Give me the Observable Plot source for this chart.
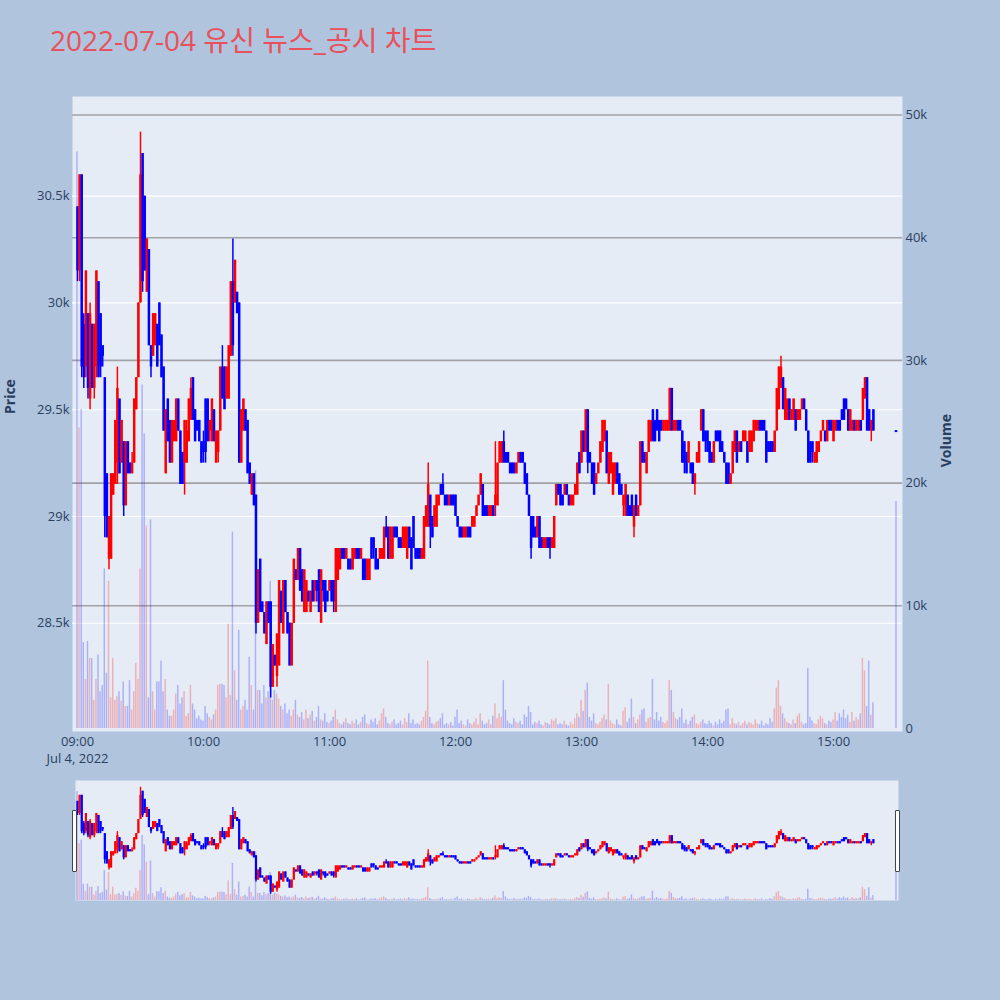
<!DOCTYPE html>
<html>
<head>
<meta charset="utf-8">
<script src="https://cdn.jsdelivr.net/npm/d3@7"></script>
<script src="https://cdn.jsdelivr.net/npm/@observablehq/plot@0.6"></script>
<style>
  html, body { margin: 0; padding: 0; overflow: hidden; background: #b0c4de; }
  #wrap { position: relative; width: 1000px; height: 1000px; font-family: "Open Sans", "Noto Sans CJK KR", sans-serif; }
  #wrap svg { position: absolute; left: 0; top: 0; }
  #title { position: absolute; left: 50px; top: 23px; font-size: 28px; line-height: 34px; color: #e8505b; white-space: nowrap;
           font-family: "Open Sans", "Noto Sans CJK KR", sans-serif; }
  .grab { position: absolute; width: 3px; height: 60px; top: 810px; background: #fff; border: 1px solid #444; border-radius: 1px; }
</style>
</head>
<body>
<div id="wrap">
  <div id="title">2022-07-04 유신 뉴스_공시 차트</div>
</div>
<script>
// ---------- DATA (1-minute candles, 4 July 2022) ----------
const titleText = "2022-07-04 유신 뉴스_공시 차트";
const dateLabel = "Jul 4, 2022";
const hourTicks = [0, 60, 120, 180, 240, 300, 360];           // minutes after 09:00
const hourLabels = ["09:00", "10:00", "11:00", "12:00", "13:00", "14:00", "15:00"];
const priceTicks = [28500, 29000, 29500, 30000, 30500];
const priceTickLabels = ["28.5k", "29k", "29.5k", "30k", "30.5k"];
const volumeTicks = [0, 10000, 20000, 30000, 40000, 50000];
const volumeTickLabels = ["0", "10k", "20k", "30k", "40k", "50k"];

// [open, high, low, close] per minute
const candles09 = [
[30450,30450,30100,30150],[30150,30600,30100,30600],[30600,30600,29650,29700],[29900,29950,29600,29650],[29700,30150,29650,30150],
[29950,29950,29550,29600],[29550,30000,29500,29950],[29900,29900,29600,29600],[29600,29900,29550,29900],[29700,30150,29650,30150],
[30100,30100,29650,29650],[29950,29950,29650,29700],[29800,29800,29700,29750],[29650,29650,28900,29000],[29200,29200,28900,28900],
[28800,29000,28750,29000],[28800,29200,28800,29200],[29100,29200,29100,29200],[29150,29450,29150,29450],[29250,29700,29150,29600],
[29550,29550,29200,29200],[29250,29450,29250,29450],[29350,29350,29000,29050],[29050,29350,29050,29350],[29350,29350,29200,29200],
[29250,29250,29200,29200],[29200,29300,29200,29250],[29250,29550,29250,29550],[29500,29650,29500,29650],[29650,30000,29650,30000],
[30000,30800,30000,30600],[30700,30700,30050,30100],[30500,30500,30150,30150],[30050,30300,30050,30300],[30250,30250,29800,29800],
[29800,29800,29650,29700],[29750,29950,29750,29950],[29800,29950,29800,29950],[29900,29900,29700,29700],[30000,30000,29800,29800],
[29850,29850,29650,29650],[29700,29700,29400,29400],[29200,29500,29200,29500],[29550,29550,29350,29350],[29450,29450,29250,29250],
[29250,29450,29250,29450],[29350,29450,29350,29450],[29350,29550,29350,29550],[29550,29550,29400,29400],[29400,29400,29150,29150],
[29300,29300,29150,29150],[29250,29450,29100,29450],[29250,29450,29250,29400],[29350,29550,29350,29550],[29450,29650,29450,29600],
[29650,29650,29450,29450],[29500,29500,29350,29350],[29450,29450,29400,29400],[29450,29450,29350,29350],[29350,29350,29250,29250]
];
const candles10 = [
[29350,29400,29250,29300],[29550,29550,29250,29300],[29550,29550,29350,29350],[29400,29450,29350,29450],[29350,29550,29350,29550],
[29500,29500,29350,29350],[29250,29400,29250,29400],[29300,29400,29250,29400],[29400,29700,29400,29700],[29700,29800,29550,29550],
[29700,29700,29500,29500],[29550,29700,29550,29700],[29550,29800,29550,29800],[29750,30100,29750,30100],[30100,30300,29750,29800],
[30000,30200,30000,30200],[30050,30050,29950,29950],[30000,30000,29250,29250],[29250,29500,29250,29500],[29400,29550,29400,29550],
[29500,29500,29400,29400],[29450,29450,29200,29200],[29250,29250,29150,29150],[29100,29200,29100,29200],[29200,29200,29050,29050],
[29100,29100,28450,28500],[28500,28750,28500,28750],[28800,28800,28550,28550],[28600,28600,28550,28550],[28550,28550,28450,28450],
[28400,28600,28400,28600],[28600,28600,28500,28500],[28600,28600,28150,28200],[28200,28400,28200,28400],[28350,28350,28300,28300],
[28250,28450,28200,28450],[28300,28700,28300,28700],[28650,28650,28500,28500],[28450,28700,28450,28700],[28700,28700,28550,28550],
[28550,28550,28450,28450],[28500,28500,28300,28300],[28300,28500,28300,28500],[28500,28800,28500,28800],[28750,28750,28700,28700],
[28700,28850,28700,28850],[28850,28850,28650,28650],[28750,28750,28600,28600],[28550,28750,28550,28750],[28550,28700,28550,28700],
[28650,28650,28600,28600],[28550,28650,28550,28650],[28700,28700,28600,28600],[28650,28700,28600,28700],[28700,28700,28600,28650],
[28750,28750,28550,28550],[28500,28750,28500,28750],[28700,28700,28600,28650],[28700,28700,28550,28550],[28650,28650,28600,28600]
];
const candles11 = [
[28650,28700,28650,28700],[28700,28700,28600,28600],[28700,28700,28550,28600],[28550,28850,28550,28850],[28700,28850,28700,28850],
[28750,28850,28750,28850],[28850,28850,28800,28800],[28850,28850,28800,28800],[28800,28850,28800,28850],[28800,28800,28750,28750],
[28800,28800,28750,28750],[28750,28850,28750,28850],[28800,28850,28800,28850],[28850,28850,28800,28800],[28850,28850,28800,28800],
[28800,28850,28800,28850],[28800,28800,28700,28700],[28800,28800,28700,28700],[28700,28800,28700,28800],[28700,28800,28700,28800],
[28900,28900,28800,28800],[28900,28900,28800,28850],[28850,28850,28750,28750],[28800,28800,28750,28750],[28800,28850,28800,28850],
[28800,28850,28800,28850],[28800,28950,28800,28950],[28950,29000,28900,28900],[28950,28950,28800,28800],[28800,28950,28800,28950],
[28800,28950,28800,28950],[28950,28950,28900,28900],[28950,28950,28900,28900],[28900,28900,28850,28850],[28900,28900,28850,28850],
[28850,28950,28850,28950],[28850,28950,28850,28950],[28800,28950,28800,28950],[28950,28950,28850,28850],[28900,28900,28750,28750],
[29000,29000,28850,28850],[28850,28850,28800,28800],[28850,28850,28800,28800],[28850,28850,28800,28800],[28800,28850,28800,28850],
[28800,29000,28800,29000],[28950,29050,28950,29050],[28950,29250,28950,29150],[29100,29100,28850,28950],[29000,29000,28900,28900],
[28950,29050,28950,29050],[28950,29100,28950,29100],[29050,29100,29050,29100],[29150,29150,29100,29100],[29150,29200,29100,29100],
[29100,29100,29050,29050],[29100,29100,29050,29050],[29050,29100,29050,29100],[29100,29100,29050,29050],[29100,29100,29050,29050]
];
const candles12 = [
[29100,29100,29000,29000],[29000,29000,28950,28950],[28950,28950,28900,28900],[28950,28950,28900,28900],[28900,28950,28900,28950],
[28900,28950,28900,28950],[28950,28950,28900,28900],[28950,28950,28900,28900],[28950,29000,28950,29000],[28950,29000,28950,29000],
[29000,29050,29000,29050],[29050,29100,29050,29100],[29100,29200,29100,29200],[29150,29150,29000,29000],[29050,29050,29000,29000],
[29050,29050,29000,29000],[29000,29050,29000,29050],[29000,29050,29000,29050],[29050,29050,29000,29000],[29050,29350,29000,29100],
[29050,29250,29050,29250],[29250,29350,29250,29350],[29250,29350,29250,29350],[29350,29400,29250,29250],[29300,29300,29250,29250],
[29300,29300,29250,29250],[29250,29250,29200,29200],[29250,29250,29200,29200],[29250,29250,29200,29200],[29200,29250,29200,29250],
[29250,29300,29250,29300],[29300,29300,29250,29250],[29300,29300,29250,29250],[29250,29250,29150,29150],[29200,29200,29100,29100],
[29100,29100,29000,29000],[29000,29000,28800,28850],[29000,29000,28900,28900],[28950,28950,28900,28900],[28900,29000,28900,29000],
[29000,29000,28850,28850],[28900,28900,28850,28850],[28850,28900,28850,28900],[28850,28900,28850,28900],[28900,28900,28850,28850],
[28900,28900,28800,28850],[28850,28900,28850,28900],[28850,29000,28850,29000],[29050,29150,29050,29150],[29150,29150,29100,29100],
[29150,29150,29050,29050],[29100,29100,29050,29050],[29100,29150,29100,29150],[29150,29150,29100,29100],[29100,29100,29050,29050],
[29050,29100,29050,29100],[29050,29100,29050,29100],[29100,29150,29100,29150],[29100,29250,29100,29250],[29300,29300,29200,29200]
];
const candles13 = [
[29250,29400,29250,29400],[29400,29400,29300,29300],[29300,29500,29300,29500],[29500,29500,29200,29250],[29300,29300,29250,29250],
[29250,29250,29150,29150],[29250,29250,29100,29100],[29150,29200,29150,29200],[29200,29250,29200,29250],[29250,29350,29250,29350],
[29300,29450,29300,29450],[29350,29450,29350,29450],[29400,29400,29200,29200],[29150,29300,29150,29300],[29200,29300,29200,29300],
[29100,29250,29100,29250],[29150,29250,29150,29250],[29250,29250,29150,29150],[29200,29200,29100,29100],[29150,29150,29100,29100],
[29050,29100,29000,29100],[29000,29150,29000,29150],[29100,29100,29000,29000],[29050,29050,29000,29000],[29100,29100,29000,29000],
[28950,29050,28900,29050],[29100,29100,29000,29000],[29000,29050,29000,29050],[29050,29350,29050,29350],[29350,29350,29250,29250],
[29300,29300,29250,29250],[29200,29300,29200,29300],[29300,29450,29300,29450],[29350,29450,29350,29450],[29500,29500,29350,29350],
[29450,29450,29350,29350],[29500,29500,29400,29400],[29450,29450,29350,29350],[29450,29450,29400,29400],[29400,29450,29400,29450],
[29400,29450,29400,29450],[29400,29450,29400,29450],[29400,29600,29400,29600],[29600,29600,29400,29400],[29400,29450,29400,29450],
[29400,29450,29400,29450],[29450,29450,29400,29400],[29450,29450,29400,29400],[29400,29400,29250,29250],[29350,29350,29200,29250],
[29300,29300,29200,29200],[29250,29350,29250,29350],[29250,29250,29200,29200],[29250,29250,29150,29150],[29150,29200,29100,29200],
[29250,29300,29250,29300],[29250,29350,29250,29350],[29400,29500,29400,29500],[29500,29500,29350,29350],[29400,29400,29300,29350]
];
const candles14 = [
[29400,29400,29300,29300],[29350,29350,29250,29250],[29300,29300,29250,29250],[29250,29350,29250,29350],[29400,29400,29350,29350],
[29400,29400,29350,29350],[29400,29400,29300,29300],[29350,29350,29300,29300],[29300,29300,29250,29250],[29250,29250,29150,29150],
[29250,29250,29150,29150],[29150,29200,29150,29200],[29200,29350,29200,29350],[29300,29400,29300,29400],[29400,29400,29250,29250],
[29300,29350,29300,29350],[29350,29350,29300,29300],[29350,29400,29350,29400],[29350,29400,29350,29400],[29350,29350,29250,29250],
[29300,29400,29300,29400],[29300,29400,29300,29400],[29350,29450,29350,29450],[29400,29450,29400,29450],[29400,29450,29400,29450],
[29450,29450,29400,29400],[29450,29450,29400,29400],[29450,29450,29400,29400],[29400,29400,29250,29250],[29350,29350,29300,29300],
[29350,29350,29300,29300],[29350,29350,29300,29300],[29300,29400,29300,29400],[29400,29600,29400,29600],[29500,29700,29500,29700],
[29600,29750,29600,29700],[29650,29650,29500,29500],[29450,29600,29450,29600],[29450,29550,29450,29550],[29550,29550,29450,29450],
[29450,29500,29450,29500],[29450,29550,29450,29550],[29500,29500,29400,29400],[29450,29500,29450,29500],[29450,29500,29450,29500],
[29500,29550,29500,29550],[29550,29550,29500,29500],[29500,29500,29400,29400],[29400,29400,29250,29250],[29350,29350,29250,29250],
[29350,29350,29250,29300],[29250,29300,29250,29300],[29250,29350,29250,29350],[29300,29350,29300,29350],[29350,29400,29350,29400],
[29400,29450,29400,29450],[29400,29400,29350,29350],[29350,29450,29350,29450],[29450,29450,29400,29400],[29450,29450,29400,29400]
];
const candles15 = [
[29350,29450,29350,29450],[29400,29450,29400,29450],[29450,29450,29400,29400],[29450,29450,29400,29400],[29500,29500,29450,29450],
[29550,29550,29450,29450],[29550,29550,29500,29500],[29500,29500,29400,29400],[29400,29500,29400,29500],[29400,29450,29400,29450],
[29450,29450,29400,29400],[29400,29450,29400,29450],[29400,29450,29400,29450],[29450,29450,29400,29400],[29450,29600,29450,29600],
[29550,29650,29550,29650],[29650,29650,29400,29400],[29500,29500,29400,29400],[29400,29450,29350,29450],[29500,29500,29400,29400]
];
const closingAuctionMinute = 390;          // 15:30
const closingAuction = [29400, 29400, 29400, 29400];

// volume per minute
const volume09 = [
47000,24500,26000,7000,4000,7100,5700,5700,2300,4000,
6000,3000,3500,13000,4500,12000,2500,5700,2300,2600,
3000,2200,3800,1800,1800,3900,1500,3000,5300,4000,
13000,28000,24000,16500,2500,17000,3000,1500,3800,3800,
5500,3000,4000,1500,1000,1000,1500,2800,3500,2000,
2500,3000,1000,1200,3500,2000,1500,800,1000,700];
const volume10 = [
600,1800,1200,900,700,1100,1500,3500,3600,3600,
3500,2500,8500,2700,16000,4700,2300,8000,1500,1800,
2300,1500,5800,3500,1500,21000,3100,3100,2000,3500,
2500,3000,12000,2300,3100,2800,2400,1800,1500,2000,
1200,1500,1000,1500,2300,1100,900,1300,700,1500,
800,1100,1400,600,900,1800,700,600,1200,500];
const volume11 = [
400,600,900,1500,700,400,300,500,800,400,
300,600,400,700,300,500,900,1100,400,300,
700,500,800,300,600,1200,1600,900,400,300,
500,700,300,400,600,300,800,500,1200,400,
700,300,400,300,600,900,1400,5500,900,400,
300,500,600,800,1200,300,400,300,500,200];
const volume12 = [
900,1500,400,600,300,200,700,400,300,500,
800,300,1200,600,300,400,700,300,1000,2000,
800,1200,900,3900,1500,600,400,300,800,500,
400,600,300,1100,900,1800,1300,300,500,400,
600,300,200,500,400,300,700,600,800,300,
400,300,600,300,200,500,300,800,1200,900];
const volume13 = [
2300,1400,3100,3700,900,600,1200,400,300,500,
800,1100,700,3600,600,400,300,700,300,200,
1400,1700,500,800,2400,900,400,700,1100,1500,
1600,500,800,900,4000,700,1300,600,900,500,
400,600,3900,3100,1300,800,700,900,1600,400,
700,300,600,900,1100,400,300,500,700,400];
const volume14 = [
300,600,400,200,500,300,700,400,600,1500,
1600,300,800,400,300,500,200,400,600,300,
500,400,300,700,400,300,600,200,400,300,
800,500,1600,3300,3900,1800,1200,800,500,400,
300,700,400,1000,1200,500,300,400,4900,900,
600,400,300,700,1000,800,400,300,600,500];
const volume15 = [
700,1300,600,1200,900,1500,800,1100,500,1300,
600,900,700,1200,5700,4700,1800,5500,1100,2100];
const closingAuctionVolume = 18500;

// ---------- build table ----------
const hourCandles = [candles09, candles10, candles11, candles12, candles13, candles14, candles15];
const hourVolumes = [volume09, volume10, volume11, volume12, volume13, volume14, volume15];
const rows = [];
hourCandles.forEach((arr, h) => arr.forEach((c, i) => rows.push({
  m: h * 60 + i, open: c[0], high: c[1], low: c[2], close: c[3], volume: hourVolumes[h][i]
})));
rows.push({m: closingAuctionMinute, open: closingAuction[0], high: closingAuction[1], low: closingAuction[2], close: closingAuction[3], volume: closingAuctionVolume});
const col = d => d.close > d.open ? "#ff0000" : "#0000ff";
const bodies = rows.filter(d => d.open !== d.close);
const dojis = rows.filter(d => d.open === d.close);

// ---------- scales / layout ----------
const W = 1000, H = 1000;
const xDomain = [-2.381, 392.857];
const priceDomain = [27993, 30967];
const volDomain = [-244, 51507];
const mainM = {marginLeft: 72, marginRight: 98, marginTop: 96, marginBottom: 269};
const sliderM = {marginLeft: 75, marginRight: 102, marginTop: 780, marginBottom: 100};
const sliderX = [-0.952, 390.952];
const font = {background: "transparent", fontFamily: "'Open Sans', 'Noto Sans', sans-serif", fontSize: "13px", color: "#2a3f5f", overflow: "visible"};
const wrap = document.getElementById("wrap");

// layer 1: background, price grid, left + bottom axes, axis titles
wrap.appendChild(Plot.plot({
  width: W, height: H, ...mainM, style: font,
  x: {domain: xDomain, ticks: hourTicks, tickFormat: d => hourLabels[hourTicks.indexOf(d)], tickSize: 0, tickPadding: 5, label: null},
  y: {domain: priceDomain, ticks: priceTicks, tickFormat: d => priceTickLabels[priceTicks.indexOf(d)], tickSize: 0, tickPadding: 3, label: null},
  marks: [
    Plot.frame({fill: "#e5ecf6", stroke: null}),
    Plot.ruleY(priceTicks, {stroke: "#ffffff", strokeWidth: 1.2}),
    Plot.text([dateLabel], {x: 0, frameAnchor: "bottom", lineAnchor: "middle", dy: 27, fill: "#2a3f5f", fontSize: 13}),
    Plot.text(["Price"], {frameAnchor: "left", dx: -62, rotate: -90, fontWeight: "bold", fontSize: 14, fill: "#2a3f5f"}),
    Plot.text(["Volume"], {frameAnchor: "right", dx: 44, rotate: -90, fontWeight: "bold", fontSize: 14, fill: "#2a3f5f"})
  ]
}));

// layer 2: volume grid, bars, right axis
wrap.appendChild(Plot.plot({
  width: W, height: H, ...mainM, style: font,
  color: {type: "identity"},
  x: {domain: xDomain, axis: null},
  y: {domain: volDomain, axis: "right", ticks: volumeTicks, tickFormat: d => volumeTickLabels[volumeTicks.indexOf(d)], tickSize: 0, tickPadding: 3, label: null},
  marks: [
    Plot.ruleY(volumeTicks.filter(v => v > 0), {stroke: "#a2a2a6", strokeWidth: 1.6}),
    Plot.rect(rows, {x1: d => d.m - 0.35, x2: d => d.m + 0.35, y1: d => 0, y2: "volume", fill: col, fillOpacity: 0.25})
  ]
}));

// layer 3: candles
wrap.appendChild(Plot.plot({
  width: W, height: H, ...mainM, style: font,
  color: {type: "identity"},
  x: {domain: xDomain, axis: null},
  y: {domain: priceDomain, axis: null},
  marks: [
    Plot.ruleX(rows, {x: "m", y1: "low", y2: "high", stroke: col, strokeWidth: 1.5}),
    Plot.ruleX(bodies, {x: "m", y1: "open", y2: "close", stroke: col, strokeWidth: 2.5}),
    Plot.ruleY(dojis, {x1: d => d.m - 0.6, x2: d => d.m + 0.6, y: "close", stroke: col, strokeWidth: 2})
  ]
}));

// range slider: background + volume
wrap.appendChild(Plot.plot({
  width: W, height: H, ...sliderM, style: font,
  color: {type: "identity"},
  x: {domain: sliderX, axis: null},
  y: {domain: [0, 51751], axis: null},
  marks: [
    Plot.frame({fill: "#e5ecf6", stroke: null}),
    Plot.rect(rows, {x1: d => d.m - 0.35, x2: d => d.m + 0.35, y1: d => 0, y2: "volume", fill: col, fillOpacity: 0.25})
  ]
}));
// range slider: candles
wrap.appendChild(Plot.plot({
  width: W, height: H, ...sliderM, style: font,
  color: {type: "identity"},
  x: {domain: sliderX, axis: null},
  y: {domain: priceDomain, axis: null},
  marks: [
    Plot.ruleX(rows, {x: "m", y1: "low", y2: "high", stroke: col, strokeWidth: 1.4}),
    Plot.ruleX(bodies, {x: "m", y1: "open", y2: "close", stroke: col, strokeWidth: 2.2})
  ]
}));

// range slider grabbers
for (const left of [72, 895]) {
  const g = document.createElement("div");
  g.className = "grab";
  g.style.left = left + "px";
  wrap.appendChild(g);
}
</script>
</body>
</html>
